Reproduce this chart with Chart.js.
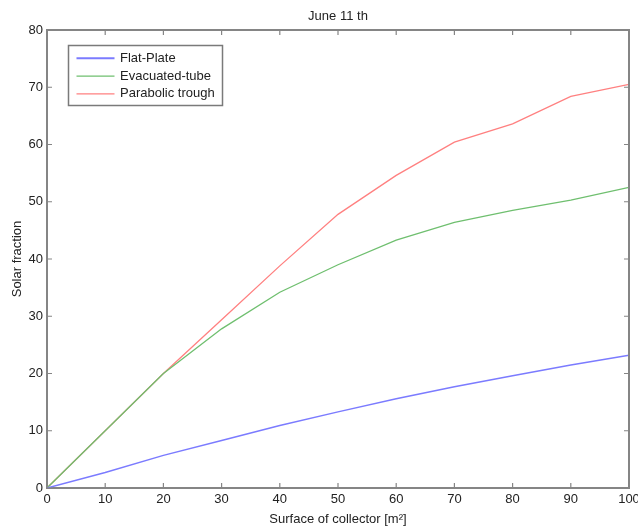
<!DOCTYPE html>
<html>
<head>
<meta charset="utf-8">
<script src="https://cdn.jsdelivr.net/npm/chart.js@4.4.1/dist/chart.umd.min.js"></script>
<style>
  html, body { margin: 0; padding: 0; background: #fff; }
  #wrap { width: 638px; height: 526px; }
</style>
</head>
<body>
<div id="wrap"><canvas id="grafico"></canvas></div>
<script>
// superficie do coletor (m2)
const superficie = [0, 10, 20, 30, 40, 50, 60, 70, 80, 90, 100];

// fracao solar por tipo de coletor
const flatPlate = [0, 2.7, 5.7, 8.3, 10.9, 13.3, 15.6, 17.7, 19.6, 21.5, 23.2];
const evacuatedTube = [0, 10, 20, 27.8, 34.2, 39.0, 43.3, 46.4, 48.5, 50.3, 52.5];
const parabolicTrough = [0, 10, 20, 29.4, 38.8, 47.8, 54.6, 60.4, 63.6, 68.4, 70.5];

const nomes = ['Flat-Plate', 'Evacuated-tube', 'Parabolic trough'];
const cores = ['#7b7bff', '#6fbf6f', '#ff8080'];

function pontos(ys) {
    let res = [];
    for (let i = 0; i < superficie.length; i++) {
        res.push({ x: superficie[i], y: ys[i] });
    }
    return res;
}

const fonte = "'Liberation Sans', Arial, sans-serif";
const corEixo = '#858585';

// moldura, ticks internos e legenda (estilo matlab)
const molduraPlugin = {
    id: 'moldura',
    afterDraw(chart) {
        const ctx = chart.ctx;
        const a = chart.chartArea;
        const sx = chart.scales.x;
        const sy = chart.scales.y;
        ctx.save();
        ctx.strokeStyle = corEixo;
        ctx.lineWidth = 2;
        ctx.beginPath();
        ctx.moveTo(a.left, a.top);
        ctx.lineTo(a.right, a.top);
        ctx.lineTo(a.right, a.bottom);
        ctx.stroke();

        ctx.lineWidth = 1.2;
        ctx.beginPath();
        sx.ticks.forEach(t => {
            const px = sx.getPixelForValue(t.value);
            ctx.moveTo(px, a.bottom); ctx.lineTo(px, a.bottom - 5);
            ctx.moveTo(px, a.top); ctx.lineTo(px, a.top + 5);
        });
        sy.ticks.forEach(t => {
            const py = sy.getPixelForValue(t.value);
            ctx.moveTo(a.left, py); ctx.lineTo(a.left + 5, py);
            ctx.moveTo(a.right, py); ctx.lineTo(a.right - 5, py);
        });
        ctx.stroke();

        // legenda
        const lx = a.left + 21.5, ly = a.top + 15.5;
        const lw = 154, lh = 60;
        ctx.fillStyle = '#fff';
        ctx.fillRect(lx, ly, lw, lh);
        ctx.strokeStyle = '#7a7a7a';
        ctx.lineWidth = 1.5;
        ctx.strokeRect(lx, ly, lw, lh);
        ctx.font = '13px ' + fonte;
        ctx.textBaseline = 'middle';
        chart.data.datasets.forEach((ds, i) => {
            const yy = ly + 12.8 + i * 17.8;
            ctx.strokeStyle = ds.borderColor;
            ctx.lineWidth = i === 0 ? 2 : 1.3;
            ctx.beginPath();
            ctx.moveTo(lx + 8, yy); ctx.lineTo(lx + 46, yy);
            ctx.stroke();
            ctx.fillStyle = '#222';
            ctx.fillText(ds.label, lx + 51.5, yy);
        });
        ctx.restore();
    }
};

function plotarGrafico() {
    const datasets = [];
    const series = [flatPlate, evacuatedTube, parabolicTrough];
    for (let i = 0; i < series.length; i++) {
        datasets.push({
            label: nomes[i],
            data: pontos(series[i]),
            borderColor: cores[i],
            borderWidth: i === 0 ? 1.5 : 1.3,
            pointRadius: 0,
            tension: 0,
            fill: false
        });
    }

    new Chart(document.getElementById('grafico'), {
        type: 'line',
        data: { datasets: datasets },
        options: {
            responsive: true,
            maintainAspectRatio: false,
            animation: false,
            layout: { padding: { top: 3, right: 0, left: 0, bottom: 0 } },
            plugins: {
                legend: { display: false },
                tooltip: { enabled: false },
                title: {
                    display: true,
                    fullSize: false,
                    text: 'June 11 th',
                    color: '#222',
                    font: { family: fonte, size: 13, weight: 'normal' },
                    padding: { top: 5.2, bottom: 6.2 }
                }
            },
            scales: {
                x: {
                    type: 'linear',
                    min: 0, max: 100,
                    ticks: { stepSize: 10, color: '#222', padding: 4, maxRotation: 0,
                             font: { family: fonte, size: 13 } },
                    grid: { display: false, drawTicks: false },
                    border: { color: corEixo, width: 2 },
                    title: { display: true, text: 'Surface of collector [m²]', color: '#222',
                             font: { family: fonte, size: 13 }, padding: { top: 2, bottom: -1 } },
                    afterFit(s) { s.height = 38; s.paddingRight = 9; s.paddingLeft = 0; }
                },
                y: {
                    min: 0, max: 80,
                    ticks: { stepSize: 10, color: '#222', padding: 4,
                             font: { family: fonte, size: 13 } },
                    grid: { display: false, drawTicks: false },
                    border: { color: corEixo, width: 2 },
                    title: { display: true, text: 'Solar fraction', color: '#222',
                             font: { family: fonte, size: 13 }, padding: { top: 10, bottom: 0 } },
                    afterFit(s) { s.width = 47; }
                }
            }
        },
        plugins: [molduraPlugin]
    });
}

window.onload = () => {
    plotarGrafico();
};
</script>
</body>
</html>
